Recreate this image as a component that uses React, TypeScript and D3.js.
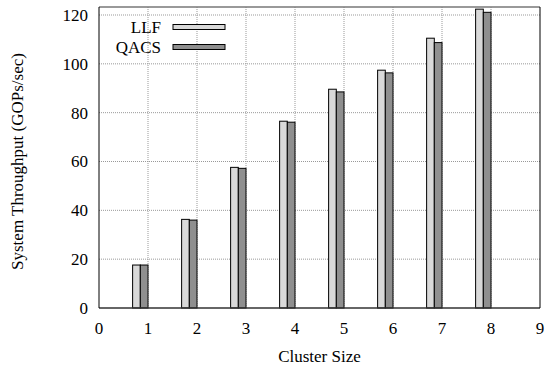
import React from "react";
import * as d3 from "d3";

const clusterSizes = [1, 2, 3, 4, 5, 6, 7, 8];
const llfValues = [17.6, 36.3, 57.6, 76.5, 89.6, 97.4, 110.5, 122.4];
const qacsValues = [17.6, 36.0, 57.2, 76.1, 88.5, 96.3, 108.7, 121.1];
const xTicks = [0, 1, 2, 3, 4, 5, 6, 7, 8, 9];
const yTicks = [0, 20, 40, 60, 80, 100, 120];
const seriesNames = ["LLF", "QACS"];
const seriesColors = ["#d9d9d9", "#8f8f8f"];

export default function App() {
  const W = 546, H = 370;
  const left = 99, right = 540, top = 7, bottom = 308;
  const x = d3.scaleLinear().domain([0, 9]).range([left, right]);
  const y = d3.scaleLinear().domain([0, 120]).range([bottom, 15]);
  const barW = x(1) - x(0);
  const bw = barW * 0.157;
  const fs = 17;
  const series = [llfValues, qacsValues];

  return (
    <svg width={W} height={H} style={{ position: "absolute", left: 0, top: 0, fontFamily: "Liberation Serif, serif" }}>
      <rect x={0} y={0} width={W} height={H} fill="#fff" />
      {yTicks.slice(1).map((t) => (
        <line key={"gy" + t} x1={left} x2={right} y1={y(t)} y2={y(t)} stroke="#999" strokeWidth={1} strokeDasharray="1,1" />
      ))}
      {xTicks.slice(1, -1).map((t) => (
        <line key={"gx" + t} x1={x(t)} x2={x(t)} y1={top} y2={bottom} stroke="#999" strokeWidth={1} strokeDasharray="1,1" />
      ))}
      {clusterSizes.map((c, i) =>
        series.map((vals, s) => {
          const x0 = x(c) - bw * (2 - s);
          const yv = y(vals[i]);
          return (
            <rect key={`b${s}-${i}`} x={x0} y={yv} width={bw} height={bottom - yv}
              fill={seriesColors[s]} stroke="#000" strokeWidth={1} />
          );
        })
      )}
      <line x1={left} x2={right} y1={top} y2={top} stroke="#777" strokeWidth={1.5} />
      <line x1={left} x2={right} y1={bottom} y2={bottom} stroke="#333" strokeWidth={1.5} />
      <line x1={left} x2={left} y1={top} y2={bottom} stroke="#000" strokeWidth={1} />
      <line x1={right} x2={right} y1={top} y2={bottom} stroke="#000" strokeWidth={1} />
      {yTicks.map((t) => (
        <text key={"yt" + t} x={88} y={y(t)} dy="0.35em" textAnchor="end" fontSize={fs}>{t}</text>
      ))}
      {xTicks.map((t) => (
        <text key={"xt" + t} x={x(t)} y={334} textAnchor="middle" fontSize={fs}>{t}</text>
      ))}
      <text x={x(4.5)} y={362} textAnchor="middle" fontSize={fs}>Cluster Size</text>
      <text transform={`translate(23,${(top + bottom) / 2 + 4}) rotate(-90)`} textAnchor="middle" fontSize={fs}>
        System Throughput (GOPs/sec)
      </text>
      {seriesNames.map((n, s) => (
        <g key={"lg" + n}>
          <text x={161} y={33 + s * 20} textAnchor="end" fontSize={fs}>{n}</text>
          <rect x={173} y={24.5 + s * 20} width={52} height={5} fill={seriesColors[s]} stroke="#000" strokeWidth={1} />
        </g>
      ))}
    </svg>
  );
}
